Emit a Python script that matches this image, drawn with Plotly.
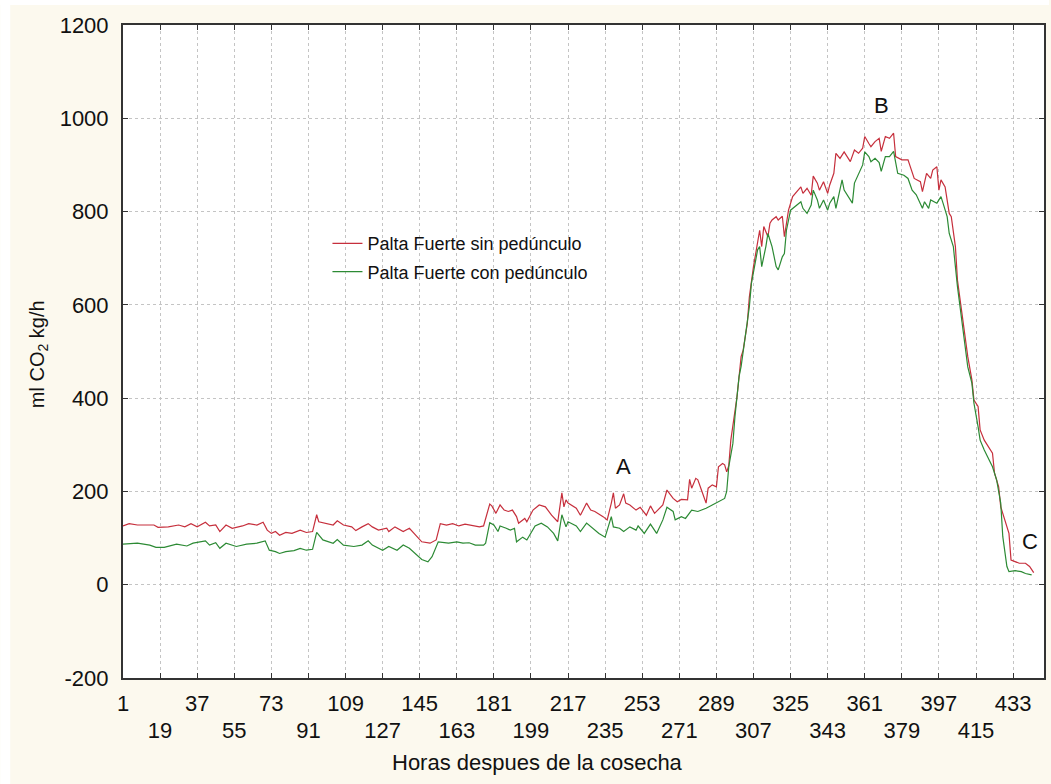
import plotly.graph_objects as go

# Respiration rate, Palta Fuerte without stem (hours after harvest, ml CO2/kg/h)
hours_sin = [1, 4, 8, 16, 18, 23, 28, 31, 34, 37, 41, 43, 46, 48, 51, 54, 59, 62, 66, 69,
             71, 73, 75, 77, 80, 83, 87, 90, 93, 95, 96, 100, 103, 105, 108, 112, 114, 117, 120, 122,
             125, 129, 130, 133, 137, 140, 143, 146, 150, 153, 155, 158, 161, 164, 167, 171, 174, 176, 179, 180,
             182, 184, 186, 188, 190, 192, 193, 196, 197, 200, 203, 206, 209, 212, 214, 215, 216, 217, 221, 223,
             226, 228, 230, 234, 236, 238, 239, 240, 242, 244, 245, 247, 250, 252, 255, 257, 259, 263, 265, 268,
             270, 272, 275, 276, 277, 279, 280, 282, 284, 285, 287, 289, 290, 292, 293, 294, 295, 296, 297, 299,
             301, 302, 304, 305, 307, 309, 310, 311, 312, 314, 315, 316, 318, 319, 321, 322, 324, 326, 328, 330,
             331, 333, 335, 336, 338, 339, 341, 343, 344, 346, 347, 349, 351, 352, 354, 356, 358, 360, 361, 363,
             364, 366, 368, 369, 371, 373, 375, 376, 379, 382, 384, 385, 388, 389, 391, 393, 394, 396, 397, 398,
             400, 402, 403, 405, 406, 408, 410, 411, 413, 414, 416, 417, 419, 422, 423, 424, 426, 427, 429, 431,
             432, 434, 436, 439, 441, 443]
co2_sin = [126, 131, 128, 128, 123, 124, 128, 124, 131, 124, 134, 126, 128, 114, 128, 121, 126, 131, 128, 134,
           117, 110, 114, 106, 112, 110, 117, 112, 114, 150, 135, 131, 128, 137, 128, 124, 116, 124, 131, 124,
           117, 121, 114, 124, 114, 121, 106, 92, 89, 96, 131, 128, 131, 126, 130, 126, 124, 126, 173, 169,
           153, 171, 160, 157, 160, 146, 132, 142, 135, 160, 171, 167, 149, 135, 197, 167, 182, 175, 164, 149,
           175, 160, 157, 146, 139, 175, 197, 164, 171, 195, 175, 171, 160, 166, 149, 169, 153, 171, 203, 185,
           178, 183, 182, 226, 207, 228, 225, 200, 175, 207, 214, 210, 253, 260, 257, 242, 255, 310, 339, 403,
           489, 503, 560, 617, 682, 739, 760, 725, 768, 746, 775, 782, 789, 782, 790, 746, 803, 832, 843, 853,
           839, 850, 835, 876, 861, 846, 864, 839, 857, 882, 925, 914, 928, 921, 907, 932, 925, 936, 961, 946,
           939, 950, 957, 929, 961, 957, 968, 918, 911, 911, 882, 871, 864, 843, 882, 871, 889, 896, 846, 868,
           853, 796, 789, 725, 653, 589, 532, 489, 439, 396, 382, 332, 310, 289, 282, 239, 210, 167, 139, 110,
           53, 49, 46, 46, 39, 26]

# Respiration rate, Palta Fuerte with stem
hours_con = [1, 8, 14, 17, 21, 24, 27, 32, 35, 41, 43, 46, 48, 51, 56, 61, 66, 70, 72, 75,
             77, 80, 84, 87, 90, 93, 95, 98, 103, 105, 108, 113, 117, 120, 122, 127, 130, 134, 137, 140,
             143, 146, 149, 151, 154, 159, 163, 166, 169, 172, 176, 177, 179, 181, 183, 184, 187, 189, 191, 192,
             195, 197, 201, 204, 207, 210, 212, 214, 216, 217, 221, 223, 226, 229, 232, 235, 238, 239, 242, 244,
             247, 250, 251, 254, 257, 260, 263, 265, 268, 269, 272, 274, 277, 280, 284, 287, 290, 293, 294, 295,
             297, 298, 300, 301, 303, 305, 306, 308, 309, 310, 311, 313, 314, 316, 318, 319, 321, 322, 323, 325,
             327, 330, 331, 333, 335, 336, 338, 339, 341, 343, 344, 346, 347, 349, 350, 351, 353, 355, 356, 358,
             360, 361, 363, 364, 366, 368, 369, 371, 373, 375, 377, 380, 382, 384, 386, 389, 390, 392, 393, 396,
             398, 399, 401, 402, 404, 406, 408, 410, 411, 413, 414, 416, 417, 419, 422, 423, 425, 427, 428, 430,
             431, 434, 437, 439, 442]
co2_con = [87, 89, 85, 80, 80, 83, 87, 83, 89, 94, 85, 90, 78, 89, 82, 87, 89, 94, 74, 71,
           67, 71, 73, 78, 74, 76, 112, 96, 89, 97, 85, 82, 85, 94, 85, 74, 82, 74, 85, 78,
           67, 54, 49, 60, 92, 89, 92, 89, 90, 85, 85, 89, 133, 128, 114, 126, 121, 117, 121, 92,
           102, 96, 126, 132, 124, 110, 94, 150, 124, 135, 126, 114, 132, 121, 110, 102, 146, 124, 121, 114,
           124, 117, 126, 110, 130, 110, 139, 166, 157, 139, 146, 142, 160, 157, 164, 171, 178, 185, 200, 253,
           303, 360, 446, 468, 532, 596, 646, 689, 718, 725, 682, 725, 753, 725, 682, 675, 703, 710, 760, 803,
           811, 821, 807, 796, 814, 846, 825, 807, 825, 803, 818, 832, 807, 853, 868, 846, 832, 818, 861, 882,
           900, 928, 918, 907, 914, 905, 886, 918, 918, 929, 882, 878, 871, 846, 836, 807, 821, 807, 825, 818,
           832, 818, 789, 753, 725, 639, 568, 503, 467, 432, 389, 339, 310, 289, 260, 253, 225, 175, 103, 39,
           28, 30, 28, 24, 21]

upper_ticks = [1, 37, 73, 109, 145, 181, 217, 253, 289, 325, 361, 397, 433]
lower_ticks = [19, 55, 91, 127, 163, 199, 235, 271, 307, 343, 379, 415]
y_ticks = [-200, 0, 200, 400, 600, 800, 1000, 1200]
y_tick_text = ["-200", "0", "200", "400", "600", "800", "1000", "1200"]

point_labels = ["A", "B", "C"]
point_hours = [244, 369, 441]
point_values = [253, 1027, 92]

FONT = "Liberation Sans, Arial, sans-serif"
CREAM = "#FCF9EE"
AXIS = "#333333"
GRID = "#c4c4c4"
PLOT_W, PLOT_H = 923, 653

fig = go.Figure()
fig.add_trace(go.Scatter(x=hours_sin, y=co2_sin, mode="lines",
                         name="Palta Fuerte sin pedúnculo",
                         line=dict(color="#C62F3C", width=1.2), legend="legend"))
fig.add_trace(go.Scatter(x=hours_con, y=co2_con, mode="lines",
                         name="Palta Fuerte con pedúnculo",
                         line=dict(color="#2C8A34", width=1.2), legend="legend2"))
# second row of hour labels lives on an overlaid axis
fig.add_trace(go.Scatter(x=[], y=[], xaxis="x2", yaxis="y", mode="lines",
                         showlegend=False, hoverinfo="skip"))

all_ticks = sorted(upper_ticks + lower_ticks)
fig.update_layout(
    width=1051, height=784,
    margin=dict(l=123, r=5, t=25, b=106),
    paper_bgcolor=CREAM, plot_bgcolor="white",
    font=dict(family=FONT, color="#111111", size=22),
    xaxis=dict(range=[1, 448], tickmode="array", tickvals=all_ticks,
               ticktext=[str(t) if t in upper_ticks else "" for t in all_ticks],
               ticks="inside", ticklen=5, tickcolor=AXIS, mirror="ticks",
               showline=True, linecolor=AXIS, linewidth=2,
               showgrid=True, gridcolor=GRID, griddash="dot", gridwidth=1,
               zeroline=False, tickfont=dict(size=22), ticklabelstandoff=5),
    xaxis2=dict(range=[1, 448], overlaying="x", anchor="y", side="bottom",
                tickmode="array", tickvals=lower_ticks, ticktext=[str(t) for t in lower_ticks],
                ticks="", showline=False, showgrid=False, zeroline=False,
                tickfont=dict(size=22), ticklabelstandoff=37),
    yaxis=dict(range=[-200, 1200], tickmode="array", tickvals=y_ticks, ticktext=y_tick_text,
               ticks="inside", ticklen=5, tickcolor=AXIS, mirror="ticks",
               showline=True, linecolor=AXIS, linewidth=2,
               showgrid=True, gridcolor=GRID, griddash="dot", gridwidth=1,
               zeroline=False, tickfont=dict(size=22), ticklabelstandoff=8),
    legend=dict(x=0.222, y=0.665, xanchor="left", yanchor="middle",
                bgcolor="rgba(0,0,0,0)", font=dict(size=18), itemwidth=30),
    legend2=dict(x=0.222, y=0.622, xanchor="left", yanchor="middle",
                 bgcolor="rgba(0,0,0,0)", font=dict(size=18), itemwidth=30),
    showlegend=True,
)

# thin white border strips around the cream panel
fig.add_shape(type="rect", xref="paper", yref="paper",
              x0=-123 / PLOT_W, x1=-113 / PLOT_W, y0=-106 / PLOT_H, y1=703 / PLOT_H,
              fillcolor="white", line=dict(width=0))
fig.add_shape(type="rect", xref="paper", yref="paper",
              x0=-123 / PLOT_W, x1=928 / PLOT_W, y0=673 / PLOT_H, y1=678 / PLOT_H,
              fillcolor="white", line=dict(width=0))

for lab, hx, vy in zip(point_labels, point_hours, point_values):
    fig.add_annotation(x=hx, y=vy, xref="x", yref="y", text=lab, showarrow=False,
                       font=dict(size=22, color="#111111"))

fig.add_annotation(x=(538 - 123) / PLOT_W, y=(678 - 762) / PLOT_H, xref="paper", yref="paper",
                   text="Horas despues de la cosecha", showarrow=False,
                   font=dict(size=22, color="#111111"), xanchor="center", yanchor="middle")
fig.add_annotation(x=(38 - 123) / PLOT_W, y=(678 - 354) / PLOT_H, xref="paper", yref="paper",
                   text="ml CO<sub>2</sub> kg/h", showarrow=False, textangle=-90,
                   font=dict(size=20, color="#111111"), xanchor="center", yanchor="middle")

fig.write_html("out.html")
